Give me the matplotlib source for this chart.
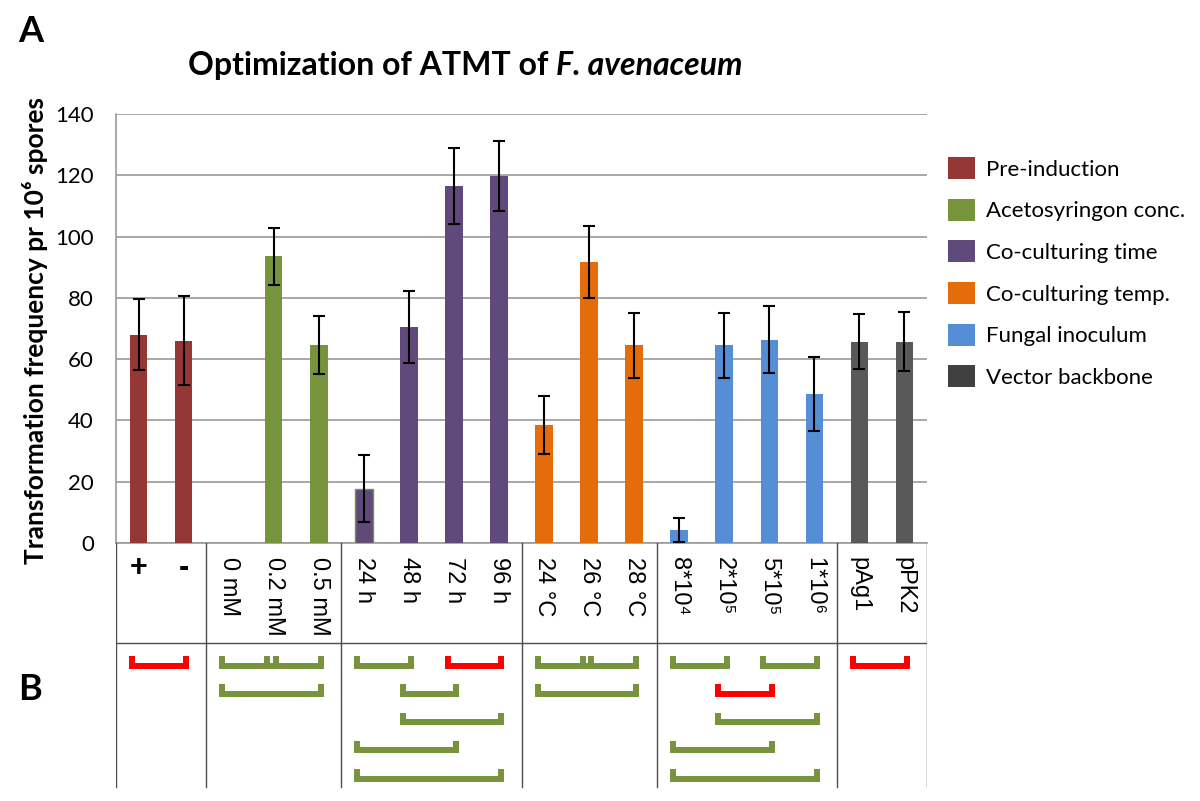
import matplotlib
matplotlib.use("Agg")
import matplotlib.pyplot as plt
from matplotlib.patches import Patch

# ===== データ =====================================================================
labels = ["+", "-", "0 mM", "0.2 mM", "0.5 mM", "24 h", "48 h", "72 h", "96 h",
          "24 °C", "26 °C", "28 °C", "8*10⁴", "2*10⁵", "5*10⁵", "1*10⁶", "pAg1", "pPK2"]
values = [68, 66, 0, 93.5, 64.5, 17.7, 70.5, 116.5, 119.7,
          38.5, 91.7, 64.5, 4.2, 64.5, 66.4, 48.6, 65.7, 65.7]
errors = [11.7, 14.5, 0, 9.4, 9.5, 10.9, 11.6, 12.4, 11.5,
          9.5, 11.8, 10.6, 3.9, 10.6, 11.0, 12.0, 9.0, 9.6]

groups = ["Pre-induction", "Acetosyringon conc.", "Co-culturing time",
          "Co-culturing temp.", "Fungal inoculum", "Vector backbone"]
group_sizes = [2, 3, 4, 3, 4, 2]
group_colors = ["#953735", "#77933C", "#604A7B", "#E46C0A", "#558ED5", "#595959"]

# (i, j, 段, 有意差あり)
comparisons = [
    (0, 1, 0, True),
    (2, 3, 0, False), (3, 4, 0, False), (2, 4, 1, False),
    (5, 6, 0, False), (7, 8, 0, True), (6, 7, 1, False), (6, 8, 2, False),
    (5, 7, 3, False), (5, 8, 4, False),
    (9, 10, 0, False), (10, 11, 0, False), (9, 11, 1, False),
    (12, 13, 0, False), (14, 15, 0, False), (13, 14, 1, True), (13, 15, 2, False),
    (12, 14, 3, False), (12, 15, 4, False),
    (16, 17, 0, True),
]

CAL = ["Lato", "DejaVu Sans"]
ARIAL = ["Liberation Sans", "DejaVu Sans"]

W, H = 1200, 801
fig = plt.figure(figsize=(W / 100, H / 100), dpi=100)


def px_rect(x0, y0, x1, y1):
    return [x0 / W, 1 - y1 / H, (x1 - x0) / W, (y1 - y0) / H]


# ===== A: 棒グラフ =================================================================
ax = fig.add_axes(px_rect(116, 114, 927, 543))
colors = []
for c, n in zip(group_colors, group_sizes):
    colors += [c] * n
xs = list(range(len(labels)))
bars = ax.bar(xs, values, width=0.39, color=colors, zorder=3)
bars[5].set_edgecolor("#77933C")
bars[5].set_linewidth(1.0)

idx = [i for i in xs if errors[i] > 0]
ax.errorbar([xs[i] for i in idx], [values[i] for i in idx], yerr=[errors[i] for i in idx],
            fmt="none", ecolor="black", elinewidth=1.5, capsize=4, capthick=1.5, zorder=4)

ax.set_xlim(-0.5, len(labels) - 0.5)
ax.set_ylim(0, 140)
ax.set_yticks(range(0, 141, 20))
ax.set_xticks([])
ax.grid(axis="y", color="#9a9a9a", linewidth=1.2, zorder=0)
for s in ["top", "right"]:
    ax.spines[s].set_visible(False)
for s in ["left", "bottom"]:
    ax.spines[s].set_color("#9a9a9a")
    ax.spines[s].set_linewidth(1.2)
ax.tick_params(axis="y", length=0, pad=16, labelsize=16)
for t in ax.get_yticklabels():
    t.set_family(CAL)

fig.text(35 / W, 1 - 330 / H, "Transformation frequency pr 10⁶ spores", rotation=90,
         ha="center", va="center", fontsize=19, fontweight="bold", family=CAL)

# タイトル（斜体部分は別テキストで連結）
t1 = fig.text(188 / W, 1 - 75 / H, "Optimization of ATMT of ", ha="left", va="baseline",
              fontsize=23, fontweight="bold", family=CAL)
fig.add_artist(plt.Annotation("F. avenaceum", xy=(1, 0), xycoords=t1, va="bottom", ha="left",
                              fontsize=23, fontweight="bold", fontstyle="italic", family=CAL))

fig.text(18 / W, 1 - 15 / H, "A", ha="left", va="top", fontsize=26, fontweight="bold", family=CAL)
fig.text(18 / W, 1 - 673 / H, "B", ha="left", va="top", fontsize=26, fontweight="bold", family=CAL)

handles = [Patch(facecolor=c, edgecolor="none") for c in group_colors]
handles[-1] = Patch(facecolor="#404040", edgecolor="none")
fig.legend(handles, groups, loc="upper left", bbox_to_anchor=(928 / W, 1 - 137 / H),
           frameon=False, prop={"family": CAL, "size": 16}, handlelength=1.2,
           handleheight=1.15, handletextpad=0.5, labelspacing=0.86)

# ===== 表（ラベル + B: 比較ブラケット） ===========================================
ax_tab = fig.add_axes(px_rect(116, 543, 927, 790), sharex=ax)
ax_tab.set_ylim(247, 0)
ax_tab.axis("off")

edges = [-0.5]
for n in group_sizes:
    edges.append(edges[-1] + n)
line_kw = dict(color="#4d4d4d", linewidth=1.0)
for e in edges:
    ax_tab.plot([e, e], [0, 244], **line_kw)
ax_tab.plot([edges[0], edges[-1]], [100, 100], **line_kw)

for i, lab in enumerate(labels):
    if lab in ("+", "-"):
        ax_tab.text(i, 25, lab, ha="center", va="center", fontsize=22, fontweight="bold", family=ARIAL)
    else:
        ax_tab.text(i, 14, lab, ha="center", va="top", rotation=270, fontsize=17, family=ARIAL)

for i, j, row, sig in comparisons:
    x0, x1 = i - 0.14, j + 0.05
    ytop = 113 + row * 28.3
    ybar = ytop + 9.5
    ax_tab.plot([x0, x0, x1, x1], [ytop, ybar, ybar, ytop],
                color="#FF0000" if sig else "#77933C", linewidth=4.3,
                solid_joinstyle="miter", solid_capstyle="butt")

fig.savefig("out.png", dpi=100)
